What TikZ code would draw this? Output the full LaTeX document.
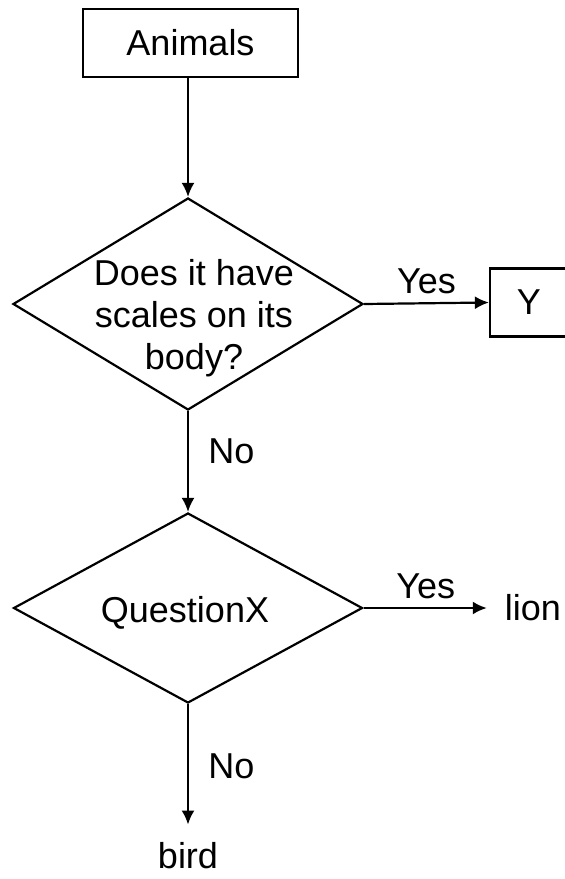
\documentclass[tikz,border=0pt]{standalone}
\usepackage{fontspec}
\setmainfont{Liberation Sans}
\usetikzlibrary{shapes.geometric,arrows.meta}

\tikzset{
    every node/.style={font=\fontsize{36}{42}\selectfont},
    box/.style={draw, line width=2.2pt, minimum width=215, minimum height=68, inner sep=0pt},
    decision/.style={draw, diamond, line width=2.2pt, inner sep=0pt},
    leaf/.style={inner sep=0pt},
    flow/.style={line width=2.2pt, -{Latex[length=14pt,width=13pt]}},
    toleaf/.style={shorten >=18pt}
}

\begin{document}
\begin{tikzpicture}[x=1pt, y=-1pt]
    \useasboundingbox (0,0) rectangle (565,879);
    \pgfmathsetmacro{\midx}{188}

    % boxes and diamonds
    \node[box] (animals) at (190.5,43) {Animals};
    \node[decision, minimum width=350, minimum height=212] (q1) at (\midx,304) {};
    \node[align=center, inner sep=0pt] (q1text) at (194,318) {Does it have\\scales on its\\body?};
    \node[box, minimum width=78] (ybox) at (529,302.5) {Y};
    \node[decision, minimum width=349, minimum height=190] (q2) at (\midx,608) {};
    \node[inner sep=0pt] (q2text) at (185,613) {QuestionX};
    \node[leaf] (lion) at (533,608) {lion};
    \node[leaf] (bird) at (\midx,856) {bird};

    % connectors
    \draw[flow] (animals.south -| q1.north) -- (q1.north);
    \draw[flow] (q1.east) -- node[above=5pt] {Yes} (ybox.west);
    \draw[flow] (q1.south) -- node[pos=0.4, right=16pt] {No} (q2.north);
    \draw[flow, toleaf] (q2.east) -- node[pos=0.44, above=5pt] {Yes} (lion.west);
    \draw[flow, toleaf] (q2.south) -- node[pos=0.45, right=16pt] {No} (bird.north);
\end{tikzpicture}
\end{document}
